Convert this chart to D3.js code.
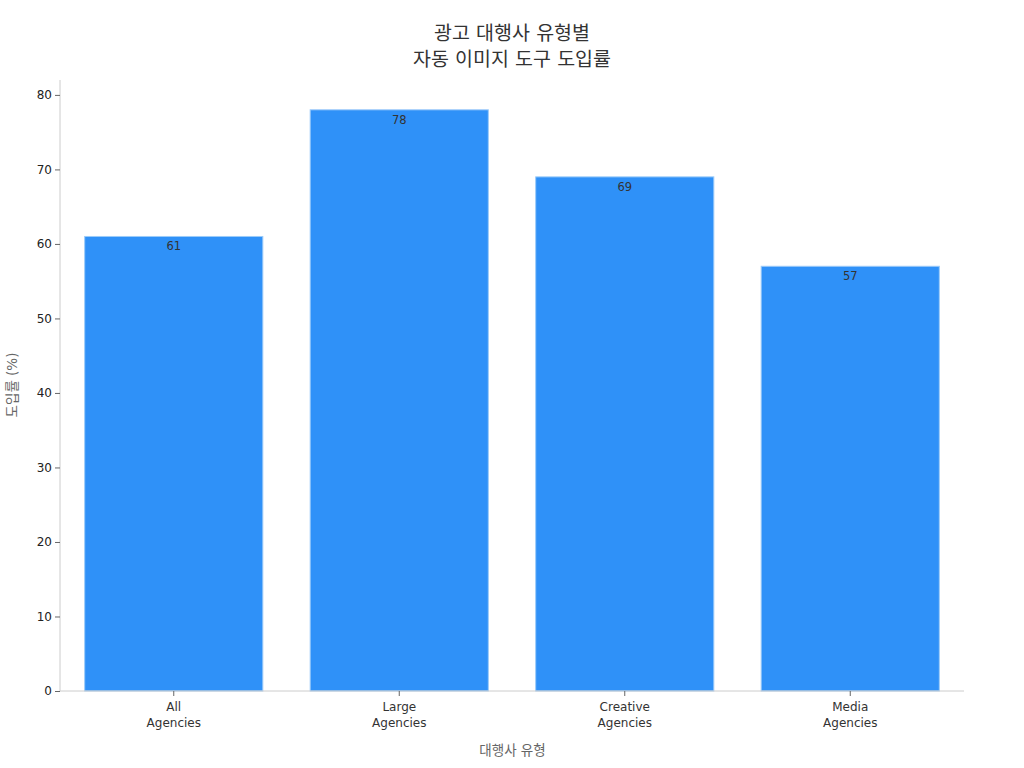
<!DOCTYPE html>
<html><head><meta charset="utf-8">
<script src="https://cdn.jsdelivr.net/npm/d3@7"></script>
<style>
body{margin:0;background:#fff;}
text{font-family:"DejaVu Sans","Noto Sans CJK KR",sans-serif;}
</style></head>
<body><svg id="c" width="1024" height="768"></svg>
<script>
const categories = [["All","Agencies"],["Large","Agencies"],["Creative","Agencies"],["Media","Agencies"]];
const values = [61, 78, 69, 57];
const yTicks = [0,10,20,30,40,50,60,70,80];
const titleLines = ["광고 대행사 유형별","자동 이미지 도구 도입률"];
const xLabel = "대행사 유형";
const yLabel = "도입률 (%)";

const svg = d3.select("#c");
const m = {l:60, r:61, t:80, b:77};
const W = 1024, H = 768;
const y0 = 691;
const keys = categories.map(c=>c.join(" "));
const x = d3.scaleBand().domain(keys).range([m.l+1, W-m.r]).paddingInner(0.21).paddingOuter(0.105);
const y = d3.scaleLinear().domain([0,82]).range([y0, m.t]);

const bars = svg.append("g");
bars.selectAll("rect").data(values).join("rect")
  .attr("x",(d,i)=>x(keys[i])).attr("width",x.bandwidth())
  .attr("y",d=>y(d)).attr("height",d=>y(0)-y(d))
  .attr("fill","#2f91f8").attr("stroke","#9ccbf9").attr("stroke-width",1);
bars.selectAll("text").data(values).join("text")
  .attr("x",(d,i)=>x(keys[i])+x.bandwidth()/2).attr("y",d=>y(d)+14)
  .attr("text-anchor","middle").attr("font-size",11.5).attr("fill","#333")
  .text(d=>d);

const ya = svg.append("g").attr("transform",`translate(${m.l},0)`)
  .call(d3.axisLeft(y).tickValues(yTicks).tickSize(5).tickPadding(3));
ya.select(".domain").attr("stroke","#ccc").attr("d",`M0,${y(0)}V${m.t}`);
ya.selectAll(".tick line").attr("stroke","#666");
ya.selectAll(".tick text").attr("font-size",12).attr("fill","#222")
  .style("font-family","DejaVu Sans");

const xa = svg.append("g").attr("transform",`translate(0,${y(0)})`)
  .call(d3.axisBottom(x).tickSize(5).tickPadding(6));
xa.select(".domain").attr("stroke","#ccc").attr("d",`M${m.l},0H${W-m.r+1}`);
xa.selectAll(".tick line").attr("stroke","#666");
xa.selectAll(".tick text").attr("font-size",12).attr("fill","#333")
  .style("font-family","DejaVu Sans")
  .each(function(d,i){
    const t=d3.select(this); t.text(null);
    categories[i].forEach((s,j)=>t.append("tspan").attr("x",0).attr("dy",j?"1.35em":"0.71em").text(s));
  });

svg.append("text").attr("x",(m.l+W-m.r)/2+1).attr("y",755).attr("text-anchor","middle")
  .attr("font-size",13.5).attr("fill","#666").text(xLabel);
svg.append("text").attr("transform",`translate(17,${385}) rotate(-90)`).attr("text-anchor","middle")
  .attr("font-size",13.5).attr("fill","#666").text(yLabel);

const tt = svg.append("text").attr("text-anchor","middle").attr("font-size",19.5).attr("fill","#333");
titleLines.forEach((s,i)=>tt.append("tspan").attr("x",512).attr("y",40+i*25.5).text(s));
</script></body></html>
